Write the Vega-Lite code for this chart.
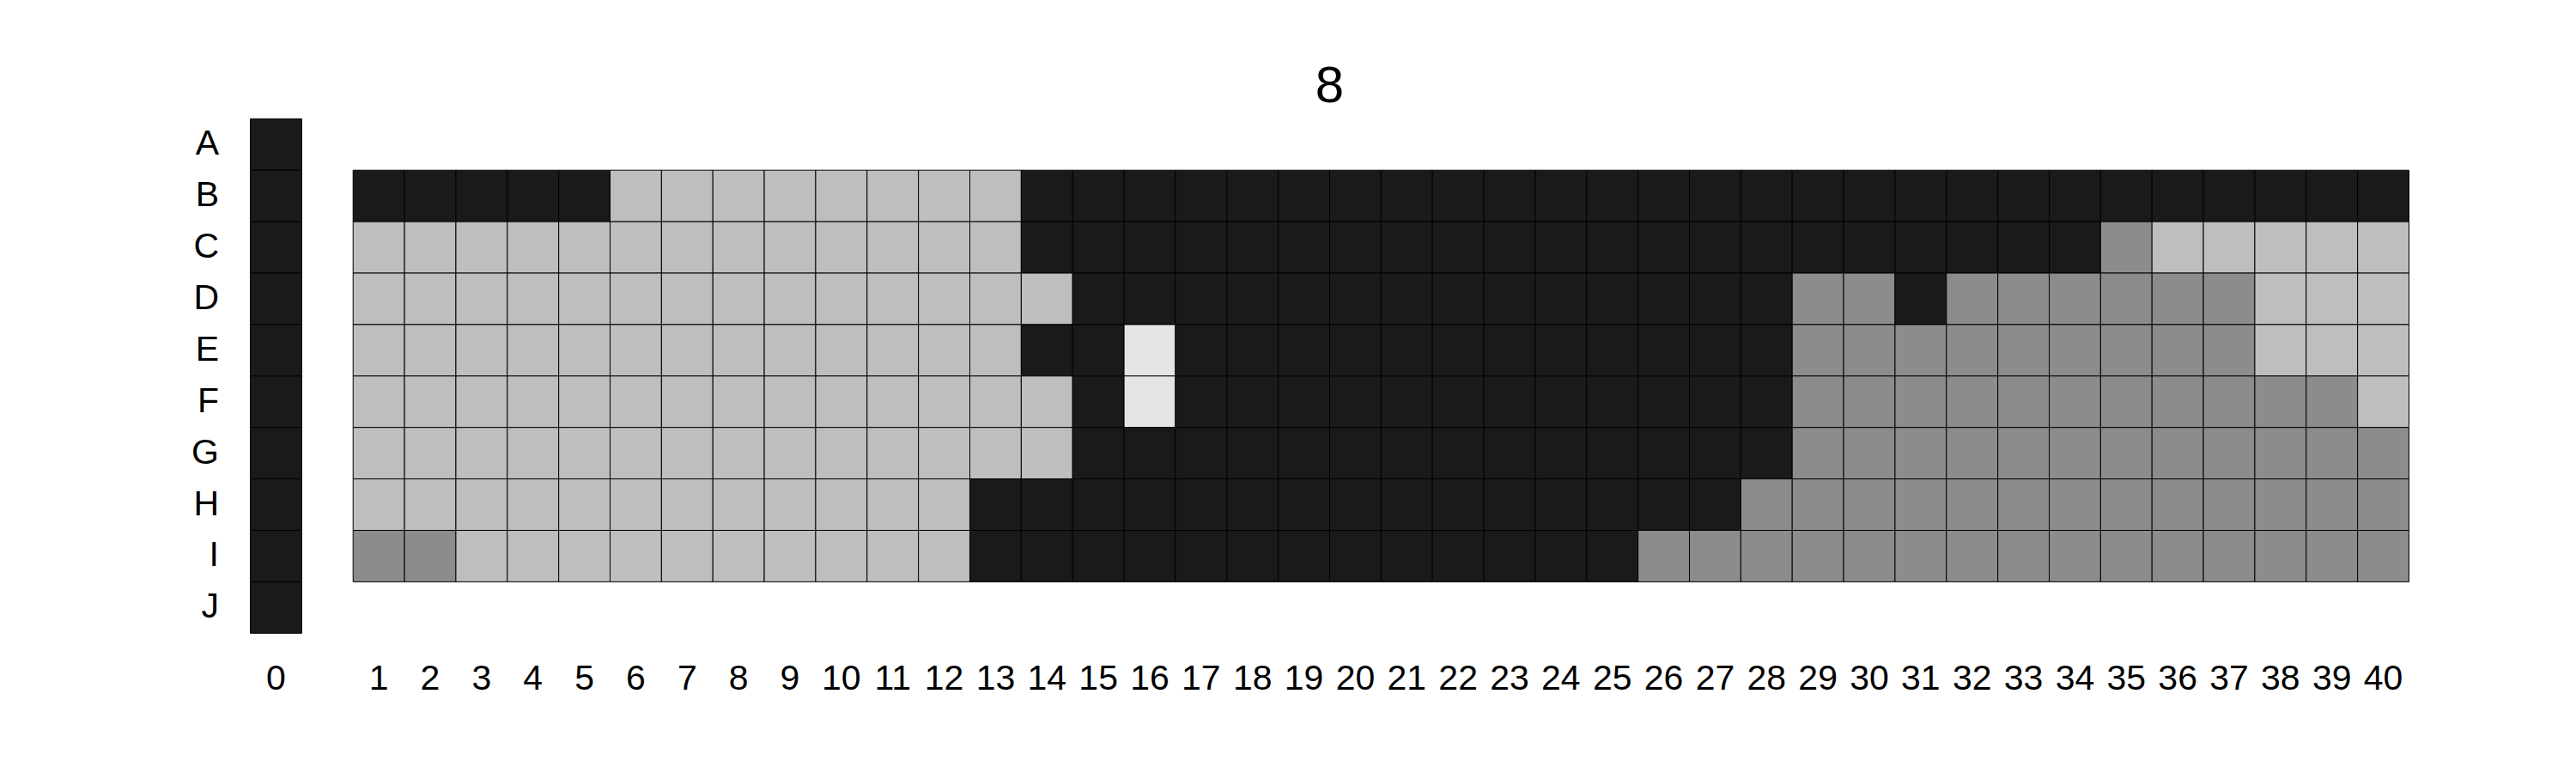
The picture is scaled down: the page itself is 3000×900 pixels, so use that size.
{
  "$schema": "https://vega.github.io/schema/vega-lite/v6.json",
  "autosize": "none",
  "padding": {"left": 291.5, "top": 138.3, "right": 194.5, "bottom": 162.7},
  "width": 2514,
  "height": 599,
  "title": {"text": "8", "fontSize": 60, "font": "Liberation Sans", "fontWeight": "normal", "color": "black", "anchor": "middle", "baseline": "alphabetic", "offset": -41},
  "data": {"values": [
    {"x":0,"y":"A","v":4},{"x":0,"y":"B","v":4},{"x":0,"y":"C","v":4},{"x":0,"y":"D","v":4},{"x":0,"y":"E","v":4},{"x":0,"y":"F","v":4},{"x":0,"y":"G","v":4},{"x":0,"y":"H","v":4},{"x":0,"y":"I","v":4},{"x":0,"y":"J","v":4},

    {"x":1,"y":"B","v":4},{"x":2,"y":"B","v":4},{"x":3,"y":"B","v":4},{"x":4,"y":"B","v":4},{"x":5,"y":"B","v":4},
    {"x":6,"y":"B","v":2},{"x":7,"y":"B","v":2},{"x":8,"y":"B","v":2},{"x":9,"y":"B","v":2},{"x":10,"y":"B","v":2},{"x":11,"y":"B","v":2},{"x":12,"y":"B","v":2},{"x":13,"y":"B","v":2},
    {"x":14,"y":"B","v":4},{"x":15,"y":"B","v":4},{"x":16,"y":"B","v":4},{"x":17,"y":"B","v":4},{"x":18,"y":"B","v":4},{"x":19,"y":"B","v":4},{"x":20,"y":"B","v":4},{"x":21,"y":"B","v":4},{"x":22,"y":"B","v":4},{"x":23,"y":"B","v":4},{"x":24,"y":"B","v":4},{"x":25,"y":"B","v":4},{"x":26,"y":"B","v":4},{"x":27,"y":"B","v":4},{"x":28,"y":"B","v":4},{"x":29,"y":"B","v":4},{"x":30,"y":"B","v":4},{"x":31,"y":"B","v":4},{"x":32,"y":"B","v":4},{"x":33,"y":"B","v":4},{"x":34,"y":"B","v":4},{"x":35,"y":"B","v":4},{"x":36,"y":"B","v":4},{"x":37,"y":"B","v":4},{"x":38,"y":"B","v":4},{"x":39,"y":"B","v":4},{"x":40,"y":"B","v":4},

    {"x":1,"y":"C","v":2},{"x":2,"y":"C","v":2},{"x":3,"y":"C","v":2},{"x":4,"y":"C","v":2},{"x":5,"y":"C","v":2},{"x":6,"y":"C","v":2},{"x":7,"y":"C","v":2},{"x":8,"y":"C","v":2},{"x":9,"y":"C","v":2},{"x":10,"y":"C","v":2},{"x":11,"y":"C","v":2},{"x":12,"y":"C","v":2},{"x":13,"y":"C","v":2},
    {"x":14,"y":"C","v":4},{"x":15,"y":"C","v":4},{"x":16,"y":"C","v":4},{"x":17,"y":"C","v":4},{"x":18,"y":"C","v":4},{"x":19,"y":"C","v":4},{"x":20,"y":"C","v":4},{"x":21,"y":"C","v":4},{"x":22,"y":"C","v":4},{"x":23,"y":"C","v":4},{"x":24,"y":"C","v":4},{"x":25,"y":"C","v":4},{"x":26,"y":"C","v":4},{"x":27,"y":"C","v":4},{"x":28,"y":"C","v":4},{"x":29,"y":"C","v":4},{"x":30,"y":"C","v":4},{"x":31,"y":"C","v":4},{"x":32,"y":"C","v":4},{"x":33,"y":"C","v":4},{"x":34,"y":"C","v":4},
    {"x":35,"y":"C","v":3},{"x":36,"y":"C","v":2},{"x":37,"y":"C","v":2},{"x":38,"y":"C","v":2},{"x":39,"y":"C","v":2},{"x":40,"y":"C","v":2},

    {"x":1,"y":"D","v":2},{"x":2,"y":"D","v":2},{"x":3,"y":"D","v":2},{"x":4,"y":"D","v":2},{"x":5,"y":"D","v":2},{"x":6,"y":"D","v":2},{"x":7,"y":"D","v":2},{"x":8,"y":"D","v":2},{"x":9,"y":"D","v":2},{"x":10,"y":"D","v":2},{"x":11,"y":"D","v":2},{"x":12,"y":"D","v":2},{"x":13,"y":"D","v":2},{"x":14,"y":"D","v":2},
    {"x":15,"y":"D","v":4},{"x":16,"y":"D","v":4},{"x":17,"y":"D","v":4},{"x":18,"y":"D","v":4},{"x":19,"y":"D","v":4},{"x":20,"y":"D","v":4},{"x":21,"y":"D","v":4},{"x":22,"y":"D","v":4},{"x":23,"y":"D","v":4},{"x":24,"y":"D","v":4},{"x":25,"y":"D","v":4},{"x":26,"y":"D","v":4},{"x":27,"y":"D","v":4},{"x":28,"y":"D","v":4},
    {"x":29,"y":"D","v":3},{"x":30,"y":"D","v":3},{"x":31,"y":"D","v":4},{"x":32,"y":"D","v":3},{"x":33,"y":"D","v":3},{"x":34,"y":"D","v":3},{"x":35,"y":"D","v":3},{"x":36,"y":"D","v":3},{"x":37,"y":"D","v":3},
    {"x":38,"y":"D","v":2},{"x":39,"y":"D","v":2},{"x":40,"y":"D","v":2},

    {"x":1,"y":"E","v":2},{"x":2,"y":"E","v":2},{"x":3,"y":"E","v":2},{"x":4,"y":"E","v":2},{"x":5,"y":"E","v":2},{"x":6,"y":"E","v":2},{"x":7,"y":"E","v":2},{"x":8,"y":"E","v":2},{"x":9,"y":"E","v":2},{"x":10,"y":"E","v":2},{"x":11,"y":"E","v":2},{"x":12,"y":"E","v":2},{"x":13,"y":"E","v":2},
    {"x":14,"y":"E","v":4},{"x":15,"y":"E","v":4},{"x":16,"y":"E","v":1},
    {"x":17,"y":"E","v":4},{"x":18,"y":"E","v":4},{"x":19,"y":"E","v":4},{"x":20,"y":"E","v":4},{"x":21,"y":"E","v":4},{"x":22,"y":"E","v":4},{"x":23,"y":"E","v":4},{"x":24,"y":"E","v":4},{"x":25,"y":"E","v":4},{"x":26,"y":"E","v":4},{"x":27,"y":"E","v":4},{"x":28,"y":"E","v":4},
    {"x":29,"y":"E","v":3},{"x":30,"y":"E","v":3},{"x":31,"y":"E","v":3},{"x":32,"y":"E","v":3},{"x":33,"y":"E","v":3},{"x":34,"y":"E","v":3},{"x":35,"y":"E","v":3},{"x":36,"y":"E","v":3},{"x":37,"y":"E","v":3},
    {"x":38,"y":"E","v":2},{"x":39,"y":"E","v":2},{"x":40,"y":"E","v":2},

    {"x":1,"y":"F","v":2},{"x":2,"y":"F","v":2},{"x":3,"y":"F","v":2},{"x":4,"y":"F","v":2},{"x":5,"y":"F","v":2},{"x":6,"y":"F","v":2},{"x":7,"y":"F","v":2},{"x":8,"y":"F","v":2},{"x":9,"y":"F","v":2},{"x":10,"y":"F","v":2},{"x":11,"y":"F","v":2},{"x":12,"y":"F","v":2},{"x":13,"y":"F","v":2},{"x":14,"y":"F","v":2},
    {"x":15,"y":"F","v":4},{"x":16,"y":"F","v":1},
    {"x":17,"y":"F","v":4},{"x":18,"y":"F","v":4},{"x":19,"y":"F","v":4},{"x":20,"y":"F","v":4},{"x":21,"y":"F","v":4},{"x":22,"y":"F","v":4},{"x":23,"y":"F","v":4},{"x":24,"y":"F","v":4},{"x":25,"y":"F","v":4},{"x":26,"y":"F","v":4},{"x":27,"y":"F","v":4},{"x":28,"y":"F","v":4},
    {"x":29,"y":"F","v":3},{"x":30,"y":"F","v":3},{"x":31,"y":"F","v":3},{"x":32,"y":"F","v":3},{"x":33,"y":"F","v":3},{"x":34,"y":"F","v":3},{"x":35,"y":"F","v":3},{"x":36,"y":"F","v":3},{"x":37,"y":"F","v":3},{"x":38,"y":"F","v":3},{"x":39,"y":"F","v":3},
    {"x":40,"y":"F","v":2},

    {"x":1,"y":"G","v":2},{"x":2,"y":"G","v":2},{"x":3,"y":"G","v":2},{"x":4,"y":"G","v":2},{"x":5,"y":"G","v":2},{"x":6,"y":"G","v":2},{"x":7,"y":"G","v":2},{"x":8,"y":"G","v":2},{"x":9,"y":"G","v":2},{"x":10,"y":"G","v":2},{"x":11,"y":"G","v":2},{"x":12,"y":"G","v":2},{"x":13,"y":"G","v":2},{"x":14,"y":"G","v":2},
    {"x":15,"y":"G","v":4},{"x":16,"y":"G","v":4},{"x":17,"y":"G","v":4},{"x":18,"y":"G","v":4},{"x":19,"y":"G","v":4},{"x":20,"y":"G","v":4},{"x":21,"y":"G","v":4},{"x":22,"y":"G","v":4},{"x":23,"y":"G","v":4},{"x":24,"y":"G","v":4},{"x":25,"y":"G","v":4},{"x":26,"y":"G","v":4},{"x":27,"y":"G","v":4},{"x":28,"y":"G","v":4},
    {"x":29,"y":"G","v":3},{"x":30,"y":"G","v":3},{"x":31,"y":"G","v":3},{"x":32,"y":"G","v":3},{"x":33,"y":"G","v":3},{"x":34,"y":"G","v":3},{"x":35,"y":"G","v":3},{"x":36,"y":"G","v":3},{"x":37,"y":"G","v":3},{"x":38,"y":"G","v":3},{"x":39,"y":"G","v":3},{"x":40,"y":"G","v":3},

    {"x":1,"y":"H","v":2},{"x":2,"y":"H","v":2},{"x":3,"y":"H","v":2},{"x":4,"y":"H","v":2},{"x":5,"y":"H","v":2},{"x":6,"y":"H","v":2},{"x":7,"y":"H","v":2},{"x":8,"y":"H","v":2},{"x":9,"y":"H","v":2},{"x":10,"y":"H","v":2},{"x":11,"y":"H","v":2},{"x":12,"y":"H","v":2},
    {"x":13,"y":"H","v":4},{"x":14,"y":"H","v":4},{"x":15,"y":"H","v":4},{"x":16,"y":"H","v":4},{"x":17,"y":"H","v":4},{"x":18,"y":"H","v":4},{"x":19,"y":"H","v":4},{"x":20,"y":"H","v":4},{"x":21,"y":"H","v":4},{"x":22,"y":"H","v":4},{"x":23,"y":"H","v":4},{"x":24,"y":"H","v":4},{"x":25,"y":"H","v":4},{"x":26,"y":"H","v":4},{"x":27,"y":"H","v":4},
    {"x":28,"y":"H","v":3},{"x":29,"y":"H","v":3},{"x":30,"y":"H","v":3},{"x":31,"y":"H","v":3},{"x":32,"y":"H","v":3},{"x":33,"y":"H","v":3},{"x":34,"y":"H","v":3},{"x":35,"y":"H","v":3},{"x":36,"y":"H","v":3},{"x":37,"y":"H","v":3},{"x":38,"y":"H","v":3},{"x":39,"y":"H","v":3},{"x":40,"y":"H","v":3},

    {"x":1,"y":"I","v":3},{"x":2,"y":"I","v":3},
    {"x":3,"y":"I","v":2},{"x":4,"y":"I","v":2},{"x":5,"y":"I","v":2},{"x":6,"y":"I","v":2},{"x":7,"y":"I","v":2},{"x":8,"y":"I","v":2},{"x":9,"y":"I","v":2},{"x":10,"y":"I","v":2},{"x":11,"y":"I","v":2},{"x":12,"y":"I","v":2},
    {"x":13,"y":"I","v":4},{"x":14,"y":"I","v":4},{"x":15,"y":"I","v":4},{"x":16,"y":"I","v":4},{"x":17,"y":"I","v":4},{"x":18,"y":"I","v":4},{"x":19,"y":"I","v":4},{"x":20,"y":"I","v":4},{"x":21,"y":"I","v":4},{"x":22,"y":"I","v":4},{"x":23,"y":"I","v":4},{"x":24,"y":"I","v":4},{"x":25,"y":"I","v":4},
    {"x":26,"y":"I","v":3},{"x":27,"y":"I","v":3},{"x":28,"y":"I","v":3},{"x":29,"y":"I","v":3},{"x":30,"y":"I","v":3},{"x":31,"y":"I","v":3},{"x":32,"y":"I","v":3},{"x":33,"y":"I","v":3},{"x":34,"y":"I","v":3},{"x":35,"y":"I","v":3},{"x":36,"y":"I","v":3},{"x":37,"y":"I","v":3},{"x":38,"y":"I","v":3},{"x":39,"y":"I","v":3},{"x":40,"y":"I","v":3}
  ]},
  "mark": {"type": "rect", "stroke": "black", "strokeWidth": 1},
  "encoding": {
    "x": {
      "field": "x", "type": "ordinal",
      "scale": {"domain": [0,-1,1,2,3,4,5,6,7,8,9,10,11,12,13,14,15,16,17,18,19,20,21,22,23,24,25,26,27,28,29,30,31,32,33,34,35,36,37,38,39,40], "paddingInner": 0, "paddingOuter": 0},
      "axis": {"title": null, "orient": "bottom", "labelExpr": "datum.value < 0 ? '' : datum.label", "labelAngle": 0, "labelPadding": 33}
    },
    "y": {
      "field": "y", "type": "ordinal",
      "scale": {"domain": ["A","B","C","D","E","F","G","H","I","J"], "paddingInner": 0, "paddingOuter": 0},
      "axis": {"title": null, "labelPadding": 37}
    },
    "color": {
      "field": "v", "type": "ordinal",
      "scale": {"domain": [1,2,3,4], "range": ["#e5e5e5","#bebebe","#8c8c8c","#1a1a1a"]},
      "legend": null
    }
  },
  "config": {
    "view": {"stroke": null},
    "axis": {"domain": false, "ticks": false, "grid": false, "labelFont": "Liberation Sans", "labelFontSize": 41, "labelColor": "black", "labelOverlap": false, "labelBound": false, "labelFlush": false}
  }
}
